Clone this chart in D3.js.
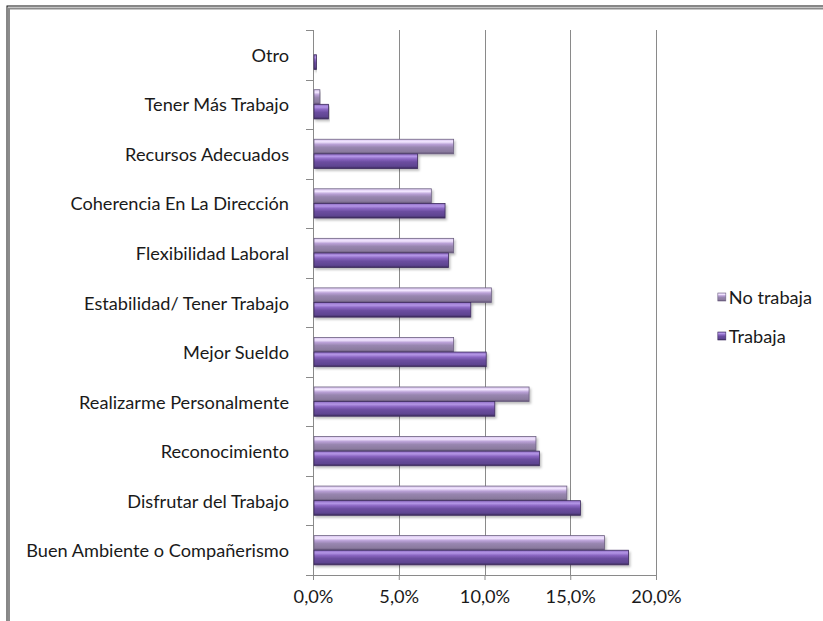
<!DOCTYPE html>
<html>
<head>
<meta charset="utf-8">
<script src="https://cdn.jsdelivr.net/npm/d3@7"></script>
<style>
  body { margin: 0; background: #fff; }
  text { font-family: "Lato", "Open Sans", sans-serif; fill: #1a1a1a; }
</style>
</head>
<body>
<div id="chart"></div>
<script>
// categories, bottom of the chart last
const categories = ["Otro", "Tener Más Trabajo", "Recursos Adecuados", "Coherencia En La Dirección",
    "Flexibilidad Laboral", "Estabilidad/ Tener Trabajo", "Mejor Sueldo", "Realizarme Personalmente",
    "Reconocimiento", "Disfrutar del Trabajo", "Buen Ambiente o Compañerismo"];
const seriesNames = ["No trabaja", "Trabaja"];
const noTrabaja = [0, 0.4, 8.2, 6.9, 8.2, 10.4, 8.2, 12.6, 13.0, 14.8, 17.0];
const trabaja = [0.2, 0.9, 6.1, 7.7, 7.9, 9.2, 10.1, 10.6, 13.2, 15.6, 18.4];
const xTicks = [0, 5, 10, 15, 20];

const W = 823, H = 621;
const margin = {top: 30, left: 313, right: 167, bottom: 46};
const width = W - margin.left - margin.right;
const height = H - margin.top - margin.bottom;

const svg = d3.select("#chart").append("svg")
    .attr("width", W).attr("height", H);

// gradients for the bevelled bars
const defs = svg.append("defs");
const grads = {
    "No trabaja": [["0%", "#d8c4ee"], ["18%", "#f2e6ff"], ["35%", "#b9a0d6"], ["55%", "#9886b0"], ["85%", "#8a7a9e"], ["100%", "#5e5072"]],
    "Trabaja": [["0%", "#8e6cc4"], ["18%", "#b496e6"], ["35%", "#8a66c2"], ["55%", "#6c4ea0"], ["85%", "#5e4490"], ["100%", "#3a2a58"]]
};
seriesNames.forEach((s, i) => {
    const g = defs.append("linearGradient").attr("id", "grad" + i)
        .attr("x1", 0).attr("y1", 0).attr("x2", 0).attr("y2", 1);
    grads[s].forEach(st => g.append("stop").attr("offset", st[0]).attr("stop-color", st[1]));
});
const shadow = defs.append("filter").attr("id", "shadow")
    .attr("x", "-5%").attr("y", "-20%").attr("width", "115%").attr("height", "160%");
shadow.append("feDropShadow").attr("dx", 1.5).attr("dy", 2).attr("stdDeviation", 1.2)
    .attr("flood-color", "#000").attr("flood-opacity", 0.25);

// frame (only left and top edges are visible)
svg.append("rect").attr("x", 7).attr("y", 6).attr("width", W).attr("height", H)
    .attr("fill", "none").attr("stroke", "#111").attr("stroke-width", 1);
svg.append("path").attr("d", `M9,${H} V8.5 H${W}`)
    .attr("fill", "none").attr("stroke", "#8c8c8c").attr("stroke-width", 2);

const g = svg.append("g").attr("transform", `translate(${margin.left},${margin.top})`);

const x = d3.scaleLinear().domain([0, 20]).range([0, width]);
const y = d3.scaleBand().domain(categories).range([0, height]).paddingInner(0.41).paddingOuter(0.205);
const ySub = d3.scaleBand().domain(seriesNames).range([0, y.bandwidth()]);

// gridlines
g.selectAll(".grid").data(xTicks.slice(1)).join("line")
    .attr("x1", d => Math.round(x(d)) + 0.5).attr("x2", d => Math.round(x(d)) + 0.5)
    .attr("y1", 0).attr("y2", height)
    .attr("stroke", "#8a8a8a").attr("stroke-width", 1);

// y axis: ticks between categories
const step = y.step();
const yAxisG = g.append("g");
yAxisG.append("line").attr("x1", 0.5).attr("x2", 0.5).attr("y1", 0).attr("y2", height + 5)
    .attr("stroke", "#8a8a8a");
yAxisG.selectAll(".ytick").data(d3.range(categories.length + 1)).join("line")
    .attr("x1", -7).attr("x2", 0)
    .attr("y1", i => Math.round(i * step) + 0.5).attr("y2", i => Math.round(i * step) + 0.5)
    .attr("stroke", "#8a8a8a");
const labels = yAxisG.selectAll(".ylabel").data(categories).join("text")
    .attr("class", "ylabel")
    .attr("x", -24).attr("y", d => y(d) + y.bandwidth() / 2)
    .attr("text-anchor", "end").attr("dominant-baseline", "central")
    .attr("font-size", 15).text(d => d);

// fit font size so the longest label spans like in the original (~263px)
const longest = d3.max(labels.nodes(), n => n.getComputedTextLength());
const fs = 15 * 263 / longest;
labels.attr("font-size", fs);

// x axis
const xAxis = g.append("g").attr("transform", `translate(0,${height})`)
    .call(d3.axisBottom(x).tickValues(xTicks).tickSize(5).tickPadding(10)
        .tickFormat(d => d3.format(".1f")(d).replace(".", ",") + "%"));
xAxis.select(".domain").attr("stroke", "#8a8a8a");
xAxis.selectAll(".tick line").attr("stroke", "#8a8a8a");
xAxis.selectAll("text").attr("font-size", fs).attr("fill", "#1a1a1a").style("font-family", "Lato, 'Open Sans', sans-serif");

// bars
const rows = categories.map((c, i) => ({cat: c, vals: [noTrabaja[i], trabaja[i]]}));
const catG = g.selectAll(".catG").data(rows).join("g")
    .attr("transform", d => `translate(0,${y(d.cat)})`);
catG.selectAll("rect").data(d => d.vals.map((v, j) => ({v, s: seriesNames[j], j})).filter(e => e.v > 0))
    .join("rect")
    .attr("x", 1).attr("y", d => ySub(d.s))
    .attr("width", d => x(d.v) - 1).attr("height", ySub.bandwidth())
    .attr("fill", d => `url(#grad${d.j})`)
    .attr("stroke", d => d.j === 0 ? "#6e6282" : "#3e2c5e").attr("stroke-width", 0.8)
    .attr("filter", "url(#shadow)");

// legend, right end of "No trabaja" near x=812
const legend = svg.append("g");
const items = seriesNames.map((s, i) => {
    const lg = legend.append("g").attr("transform", `translate(0,${297 + i * 39})`);
    lg.append("rect").attr("x", 0).attr("y", -4).attr("width", 8).attr("height", 8)
        .attr("fill", `url(#grad${i})`).attr("stroke", i === 0 ? "#6e6282" : "#3e2c5e").attr("stroke-width", 0.6);
    const t = lg.append("text").attr("x", 11).attr("y", 0).attr("dominant-baseline", "central")
        .attr("font-size", fs).text(s);
    return t.node().getComputedTextLength();
});
legend.attr("transform", `translate(${812 - 11 - d3.max(items)},0)`);
</script>
</body>
</html>
